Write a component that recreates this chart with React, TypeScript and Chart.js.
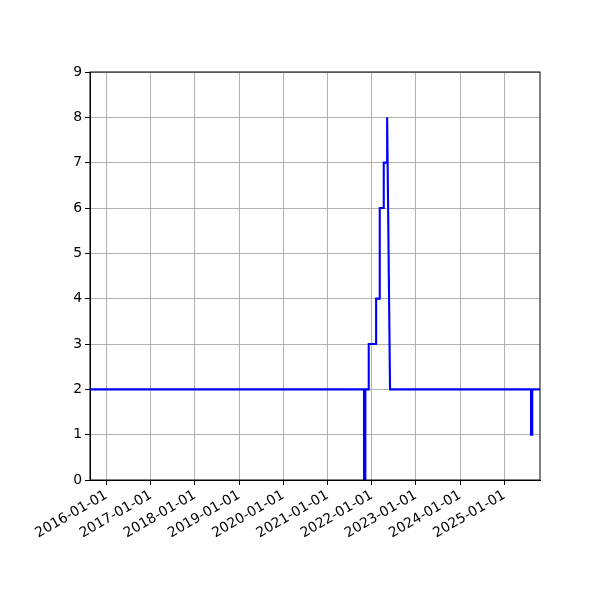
import { useEffect, useRef } from "react"
import { Chart, registerables } from "chart.js"

Chart.register(...registerables)

// observation dates and values (step-like series)
const dates = [
  "2015-08-18", "2021-10-29", "2021-10-29", "2021-11-09", "2021-11-09",
  "2021-12-07", "2021-12-07", "2022-02-06", "2022-02-06", "2022-03-08",
  "2022-03-08", "2022-04-10", "2022-04-10", "2022-05-08", "2022-05-08",
  "2022-06-01", "2025-08-09", "2025-08-09", "2025-08-19", "2025-08-19",
  "2025-10-22",
]
const values = [2, 2, 0, 0, 2, 2, 3, 3, 4, 4, 6, 6, 7, 7, 8, 2, 2, 1, 1, 2, 2]

const tickYears = [2016, 2017, 2018, 2019, 2020, 2021, 2022, 2023, 2024, 2025]
const yTicks = [0, 1, 2, 3, 4, 5, 6, 7, 8, 9]

const toTime = (d: string) => new Date(d + "T00:00:00Z").getTime()

const framePlugin = {
  id: "frame",
  afterDraw(chart: Chart) {
    const { ctx, chartArea } = chart
    ctx.save()
    ctx.strokeStyle = "#000"
    ctx.lineWidth = 1
    ctx.strokeRect(chartArea.left, chartArea.top, chartArea.right - chartArea.left, chartArea.bottom - chartArea.top)
    ctx.restore()
  },
}

export default function App() {
  const canvasRef = useRef<HTMLCanvasElement>(null)
  const chartRef = useRef<Chart | null>(null)

  useEffect(() => {
    document.body.style.margin = "0"
    if (!canvasRef.current) return
    if (chartRef.current) chartRef.current.destroy()

    const font = { family: "'DejaVu Sans'", size: 13.9 }
    const points = dates.map((d, i) => ({ x: toTime(d), y: values[i] }))

    chartRef.current = new Chart(canvasRef.current, {
      type: "line",
      data: {
        datasets: [
          {
            data: points,
            borderColor: "#0000ff",
            borderWidth: 2.1,
            pointRadius: 0,
            tension: 0,
            fill: false,
          },
        ],
      },
      options: {
        animation: false,
        responsive: false,
        layout: { padding: { top: 72, right: 60, left: 0, bottom: 0 } },
        plugins: { legend: { display: false }, tooltip: { enabled: false } },
        scales: {
          x: {
            type: "linear",
            min: toTime(dates[0]),
            max: toTime(dates[dates.length - 1]),
            afterFit: (s: any) => {
              s.height = 120
            },
            afterBuildTicks: (s: any) => {
              s.ticks = tickYears.map((y) => ({ value: Date.UTC(y, 0, 1) }))
            },
            ticks: {
              autoSkip: false,
              minRotation: 30,
              maxRotation: 30,
              color: "#000",
              font,
              padding: 2,
              callback: (v: any) => new Date(v).toISOString().slice(0, 10),
            },
            grid: { color: "#b0b0b0", lineWidth: 1, tickColor: "#000", tickLength: 5, tickWidth: 1 },
            border: { display: true, color: "#000", width: 1 },
          },
          y: {
            min: 0,
            max: 9,
            afterFit: (s: any) => {
              s.width = 90
            },
            afterBuildTicks: (s: any) => {
              s.ticks = yTicks.map((v) => ({ value: v }))
            },
            ticks: { color: "#000", font, padding: 3 },
            grid: { color: "#b0b0b0", lineWidth: 1, tickColor: "#000", tickLength: 5, tickWidth: 1 },
            border: { display: true, color: "#000", width: 1 },
          },
        },
      },
      plugins: [framePlugin],
    })

    return () => {
      if (chartRef.current) {
        chartRef.current.destroy()
        chartRef.current = null
      }
    }
  }, [])

  return (
    <div style={{ width: 600, height: 600, background: "#fff" }}>
      <canvas ref={canvasRef} width={600} height={600} />
    </div>
  )
}
